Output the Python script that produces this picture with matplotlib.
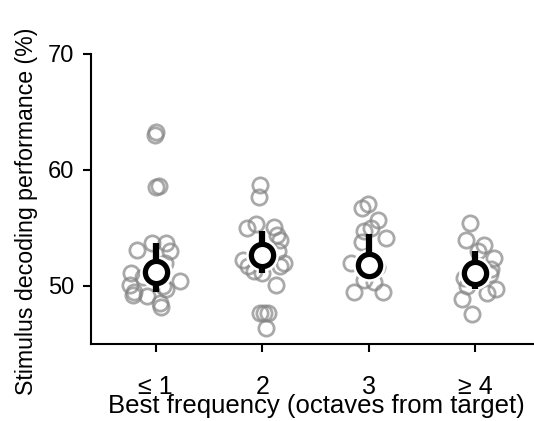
import matplotlib.pyplot as plt
import numpy as np

plt.rcParams['font.family'] = ['Liberation Sans', 'DejaVu Sans']

categories = ['\u2264 1', '2', '3', '\u2265 4']
positions = [1, 2, 3, 4]

# per-session decoding performance (%) and horizontal jitter (in category units)
vals_1 = [63.3, 63.0, 58.6, 58.5, 53.1, 53.7, 53.7, 53.0, 51.1, 50.8,
          50.4, 50.1, 49.5, 49.2, 49.1, 48.5, 48.2, 49.7, 50.0, 52.0]
jit_1 = [0.00, -0.01, 0.03, 0.00, -0.18, -0.04, 0.10, 0.13, -0.23, -0.12,
         0.23, -0.24, -0.20, -0.21, -0.08, 0.04, 0.05, 0.10, 0.07, 0.09]
vals_2 = [58.7, 57.7, 55.0, 55.3, 55.1, 54.4, 54.0, 52.2, 51.7, 52.0,
          51.7, 51.1, 50.1, 47.7, 47.7, 47.7, 46.4, 53.0, 51.3]
jit_2 = [-0.02, -0.03, -0.14, -0.06, 0.11, 0.14, 0.17, -0.18, -0.13, 0.20,
         0.17, 0.00, 0.13, -0.02, 0.02, 0.05, 0.03, 0.15, -0.08]
vals_3 = [57.1, 56.7, 55.7, 55.0, 54.7, 54.1, 53.8, 52.0, 51.6, 49.5,
          50.5, 50.3, 49.5]
jit_3 = [-0.01, -0.06, 0.09, 0.02, -0.05, 0.16, -0.06, -0.17, 0.08, -0.14,
         -0.05, 0.05, 0.13]
vals_4 = [55.4, 54.0, 53.5, 52.4, 53.0, 50.7, 51.0, 49.7, 49.4, 48.9,
          47.6, 50.0, 51.5]
jit_4 = [-0.05, -0.09, 0.08, 0.17, 0.02, -0.11, 0.14, 0.19, 0.11, -0.13,
         -0.03, -0.08, 0.15]

centers = [51.2, 52.7, 51.8, 51.1]
err_low = [49.5, 51.1, 51.2, 49.7]
err_high = [53.7, 54.7, 54.5, 53.0]

fig = plt.figure(figsize=(5.34, 4.21), dpi=100)
ax = fig.add_axes([0.170, 0.183, 0.83, 0.689])

groups = [(vals_1, jit_1), (vals_2, jit_2), (vals_3, jit_3), (vals_4, jit_4)]
for p, (v, j) in zip(positions, groups):
    ax.plot(p + np.array(j), v, 'o', ms=11, mfc='none', mec='#858585',
            mew=2, alpha=0.7, zorder=2)

for p, c, lo, hi in zip(positions, centers, err_low, err_high):
    # white halo, error bar, then the ring on top
    ax.plot(p, c, 'o', ms=16, mfc='white', mec='white', mew=7.5, zorder=3)
    ax.plot([p, p], [lo, hi], '-', color='k', lw=4.5, solid_capstyle='butt', zorder=4)
    ax.plot(p, c, 'o', ms=16, mfc='white', mec='k', mew=3.8, zorder=5)

ax.set_xlim(0.39, 4.55)
ax.set_ylim(45, 70)
ax.set_yticks([50, 60, 70])
ax.set_xticks(positions)
ax.set_xticklabels(categories)
ax.spines['top'].set_visible(False)
ax.spines['right'].set_visible(False)
ax.spines['left'].set_bounds(45, 70)
ax.tick_params(direction='out', length=6, width=1.5)
ax.tick_params(axis='x', pad=16, labelsize=18)
ax.tick_params(axis='y', pad=6, labelsize=17)
for s in ['left', 'bottom']:
    ax.spines[s].set_linewidth(1.5)

ax.set_xlabel('Best frequency (octaves from target)', fontsize=18.5)
ax.xaxis.set_label_coords(0.508, -0.174)
ax.set_ylabel('Stimulus decoding performance (%)', fontsize=16.7)
ax.yaxis.set_label_coords(-0.12, 0.459)

fig.savefig('out.png', dpi=100)
